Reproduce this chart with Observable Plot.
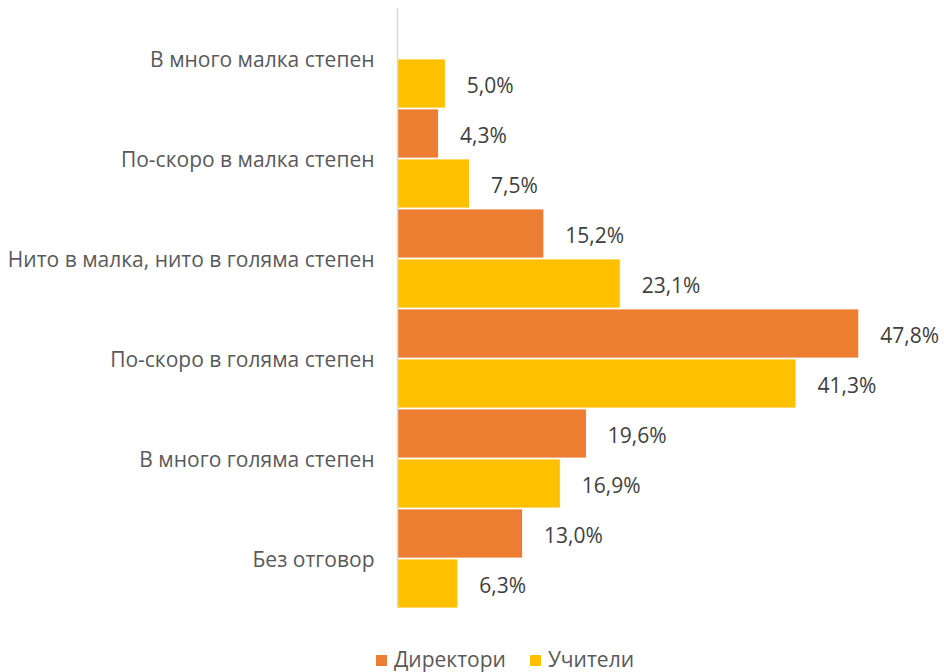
<!DOCTYPE html>
<html>
<head>
<meta charset="utf-8">
<script src="https://cdn.jsdelivr.net/npm/d3@7"></script>
<script src="https://cdn.jsdelivr.net/npm/@observablehq/plot@0.6"></script>
<style>
  body { margin: 0; background: #fff; font-family: "Open Sans", sans-serif; }
  #chart { width: 944px; }
  .legend { display: flex; justify-content: center; gap: 24px; font-size: 21px; line-height: 26px; color: #595959; margin-top: 16px; margin-left: 66px; }
  .legend span.sw { display: inline-block; width: 11px; height: 11px; margin-right: 7px; vertical-align: 1px; }
</style>
</head>
<body>
<div id="chart"></div>
<script>
const categories = [
  "В много малка степен",
  "По-скоро в малка степен",
  "Нито в малка, нито в голяма степен",
  "По-скоро в голяма степен",
  "В много голяма степен",
  "Без отговор"
];
const seriesNames = ["Директори", "Учители"];
const colors = ["#ED7D31", "#FFC000"];
const directors = [null, 4.3, 15.2, 47.8, 19.6, 13.0];
const teachers = [5.0, 7.5, 23.1, 41.3, 16.9, 6.3];

const data = [];
categories.forEach((c, i) => {
  if (directors[i] != null) data.push({cat: c, series: seriesNames[0], value: directors[i]});
  if (teachers[i] != null) data.push({cat: c, series: seriesNames[1], value: teachers[i]});
});

const fmt = v => v.toFixed(1).replace(".", ",") + "%";

const chart = Plot.plot({
  width: 944,
  height: 630,
  marginLeft: 397,
  marginRight: 64,
  marginTop: 8,
  marginBottom: 22,
  style: {fontFamily: "Open Sans, sans-serif", fontSize: "21px", color: "#595959"},
  x: {domain: [0, 50], axis: null},
  y: {domain: seriesNames, axis: null, paddingInner: 0.02, paddingOuter: 0},
  fy: {domain: categories, padding: 0, label: null, axis: null},
  color: {domain: seriesNames, range: colors},
  marks: [
    Plot.axisFy({anchor: "left", label: null, tickSize: 0, tickPadding: 23, fontSize: 21, fill: "#595959", dy: 2}),
    Plot.barX(data, {fy: "cat", y: "series", x: "value", fill: "series", stroke: "#fff", strokeWidth: 0.8}),
    Plot.text(data, {fy: "cat", y: "series", x: "value", text: d => fmt(d.value), textAnchor: "start", dx: 21, dy: 2, fill: "#404040", fontSize: 21}),
    Plot.ruleX([0], {stroke: "#d9d9d9", strokeWidth: 1.5})
  ]
});
document.getElementById("chart").appendChild(chart);

const legend = document.createElement("div");
legend.className = "legend";
seriesNames.forEach((s, i) => {
  const item = document.createElement("div");
  item.innerHTML = `<span class="sw" style="background:${colors[i]}"></span>${s}`;
  legend.appendChild(item);
});
document.body.appendChild(legend);
</script>
</body>
</html>
